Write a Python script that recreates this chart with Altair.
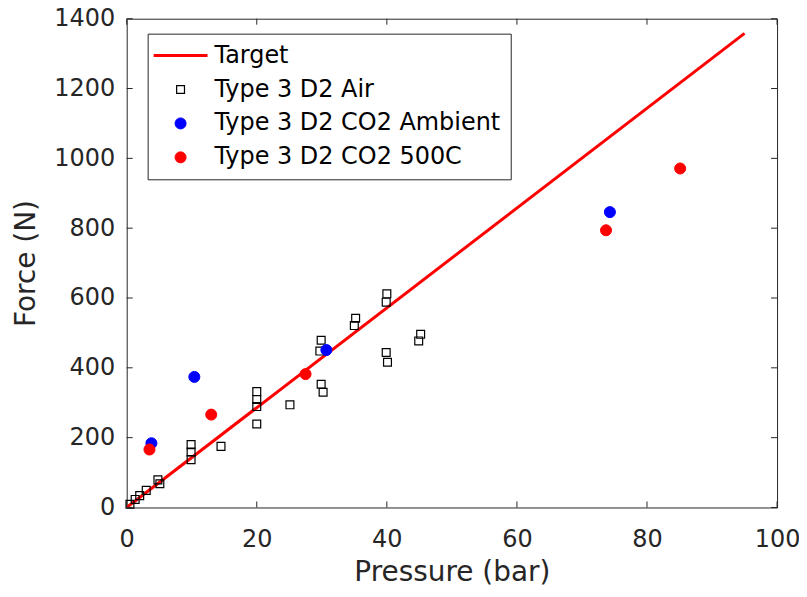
import altair as alt
import pandas as pd

# ---- data ----
series_names = ["Target", "Type 3 D2 Air", "Type 3 D2 CO2 Ambient", "Type 3 D2 CO2 500C"]

target_p = [0, 95]
target_f = [0, 1358]

air_p = [0.5, 1.3, 2.0, 3.0, 4.8, 5.1, 9.9, 9.9, 9.9, 14.5, 20.0, 20.0, 20.0, 20.0,
         25.1, 29.9, 29.7, 29.9, 30.2, 35.2, 35.0, 40.0, 39.9, 39.9, 40.1, 45.2, 44.9]
air_f = [9, 23, 34, 49, 79, 68, 180, 159, 137, 175, 332, 309, 289, 239,
         294, 479, 448, 353, 330, 542, 521, 612, 588, 444, 416, 496, 477]

amb_p = [3.8, 10.4, 30.7, 74.3]
amb_f = [184, 374, 451, 846]

hot_p = [3.5, 13.0, 27.5, 73.7, 85.1]
hot_f = [166, 266, 382, 794, 971]

x_ticks = [0, 20, 40, 60, 80, 100]
y_ticks = [0, 200, 400, 600, 800, 1000, 1200, 1400]

# ---- tables ----
line_df = pd.DataFrame({"p": target_p, "f": target_f, "series": series_names[0]})
pts_df = pd.concat([
    pd.DataFrame({"p": air_p, "f": air_f, "series": series_names[1]}),
    pd.DataFrame({"p": amb_p, "f": amb_f, "series": series_names[2]}),
    pd.DataFrame({"p": hot_p, "f": hot_f, "series": series_names[3]}),
], ignore_index=True)
xt_df = pd.DataFrame({"v": x_ticks})
yt_df = pd.DataFrame({"v": y_ticks})

W, H = 652, 490
AX = "#262626"
FONT = "DejaVu Sans"

xscale = alt.Scale(domain=[0, 100], nice=False, zero=False)
yscale = alt.Scale(domain=[0, 1400], nice=False, zero=False)

xaxis = alt.Axis(values=x_ticks, format="d", title="Pressure (bar)",
                 labelPadding=20, titlePadding=7, labelFlush=False)
yaxis = alt.Axis(values=y_ticks, format="d", title="Force (N)",
                 labelPadding=12, titlePadding=13, labelFlush=False)

stroke_sc = alt.Scale(domain=series_names, range=["#ff0000", "#000000", "#0000ff", "#ff0000"])
fill_sc = alt.Scale(domain=series_names, range=["transparent", "transparent", "#0000ff", "#ff0000"])
shape_sc = alt.Scale(domain=series_names, range=["M -5.4 0 L 5.4 0", "square", "circle", "circle"])
size_sc = alt.Scale(type="ordinal", domain=series_names, range=[100, 62, 122, 122])
sw_sc = alt.Scale(type="ordinal", domain=series_names, range=[3, 1.2, 1, 1])

legend = alt.Legend(title=None, orient="none", legendX=21, legendY=15)

line = alt.Chart(line_df).mark_line(clip=True).encode(
    x=alt.X("p:Q", scale=xscale, axis=xaxis),
    y=alt.Y("f:Q", scale=yscale, axis=yaxis),
    stroke=alt.Stroke("series:N", scale=stroke_sc, legend=legend),
    strokeWidth=alt.StrokeWidth("series:N", scale=sw_sc, legend=legend),
)

pts = alt.Chart(pts_df).mark_point(opacity=1).encode(
    x=alt.X("p:Q", scale=xscale),
    y=alt.Y("f:Q", scale=yscale),
    stroke=alt.Stroke("series:N", scale=stroke_sc, legend=legend),
    fill=alt.Fill("series:N", scale=fill_sc, legend=legend),
    shape=alt.Shape("series:N", scale=shape_sc, legend=legend),
    size=alt.Size("series:N", scale=size_sc, legend=legend),
    strokeWidth=alt.StrokeWidth("series:N", scale=sw_sc, legend=legend),
)

tick_len = 6
xt_bot = alt.Chart(xt_df).mark_rule(color=AX, strokeWidth=1).encode(
    x=alt.X("v:Q", scale=xscale), y=alt.value(H), y2=alt.value(H - tick_len))
xt_top = alt.Chart(xt_df).mark_rule(color=AX, strokeWidth=1).encode(
    x=alt.X("v:Q", scale=xscale), y=alt.value(0), y2=alt.value(tick_len))
yt_left = alt.Chart(yt_df).mark_rule(color=AX, strokeWidth=1).encode(
    y=alt.Y("v:Q", scale=yscale), x=alt.value(0), x2=alt.value(tick_len))
yt_right = alt.Chart(yt_df).mark_rule(color=AX, strokeWidth=1).encode(
    y=alt.Y("v:Q", scale=yscale), x=alt.value(W), x2=alt.value(W - tick_len))

chart = alt.layer(line, pts, xt_bot, xt_top, yt_left, yt_right).properties(
    width=W, height=H,
    autosize=alt.AutoSizeParams(type="none"),
    padding={"left": 119, "top": 10, "right": 22, "bottom": 81},
    background="white",
).configure_view(
    stroke=AX, strokeWidth=1
).configure_axis(
    domain=False, ticks=False, tickSize=0, grid=False,
    labelFont=FONT, labelFontSize=24, labelColor=AX,
    titleFont=FONT, titleFontSize=28, titleColor=AX, titleFontWeight="normal",
).configure_legend(
    padding=10, strokeColor=AX, fillColor="white",
    labelFont=FONT, labelFontSize=24, labelColor="#000000", labelLimit=500,
    rowPadding=10, symbolOffset=11, labelOffset=22, cornerRadius=0,
)

chart.save("out.html", embed_options={"renderer": "svg", "actions": False})
